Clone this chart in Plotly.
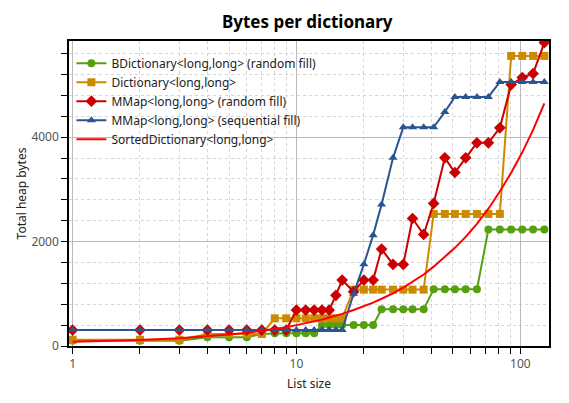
import plotly.graph_objects as go

list_size = [1, 2, 3, 4, 5, 6, 7, 8, 9, 10, 11, 12, 13, 14, 15, 16, 18, 20, 22, 24,
             27, 30, 33, 37, 41, 46, 51, 57, 64, 72, 81, 91, 102, 114, 128]

bdictionary_random = [100, 100, 100, 166, 166, 166, 230, 243, 243, 243, 243, 243,
                      402, 402, 402, 402, 402, 402, 402, 702, 702, 702, 702, 702,
                      1088, 1088, 1088, 1088, 1088, 2233, 2233, 2233, 2233, 2233, 2233]

dictionary = [120, 120, 120, 230, 230, 230, 230, 530, 530, 530, 530, 530, 530, 530,
              530, 530, 1080, 1080, 1080, 1080, 1080, 1080, 1080, 1080,
              2530, 2530, 2530, 2530, 2530, 2530, 2530, 5557, 5557, 5557, 5557]

mmap_random = [306, 306, 306, 306, 306, 306, 306, 306, 306, 689, 689, 689, 689, 689,
               970, 1263, 1040, 1263, 1263, 1857, 1563, 1563, 2443, 2137, 2731,
               3605, 3324, 3605, 3892, 3892, 4179, 5008, 5142, 5218, 5812]

mmap_sequential = [306, 306, 306, 306, 306, 306, 306, 306, 306, 306, 306, 306, 306,
                   306, 306, 306, 1000, 1564, 2124, 2712, 3604, 4190, 4190, 4190,
                   4190, 4485, 4772, 4772, 4772, 4772, 5059, 5059, 5059, 5059, 5059]

sorted_dictionary = [80, 115, 150, 185, 220, 255, 290, 325, 360, 400, 435, 470, 505,
                     545, 580, 615, 690, 760, 830, 905, 1010, 1120, 1230, 1370, 1520,
                     1700, 1880, 2090, 2340, 2630, 2960, 3320, 3710, 4140, 4650]

FONT = "Noto Sans"

fig = go.Figure()
fig.add_trace(go.Scatter(x=list_size, y=bdictionary_random, name="BDictionary<long,long> (random fill)",
                         mode="lines+markers", line=dict(color="#56a010", width=2),
                         marker=dict(symbol="circle", size=8, color="#56a010")))
fig.add_trace(go.Scatter(x=list_size, y=dictionary, name="Dictionary<long,long>",
                         mode="lines+markers", line=dict(color="#cc8a00", width=2),
                         marker=dict(symbol="square", size=8, color="#cc8a00")))
fig.add_trace(go.Scatter(x=list_size, y=mmap_random, name="MMap<long,long> (random fill)",
                         mode="lines+markers", line=dict(color="#cc0000", width=2),
                         marker=dict(symbol="diamond", size=9, color="#cc0000")))
fig.add_trace(go.Scatter(x=list_size, y=mmap_sequential, name="MMap<long,long> (sequential fill)",
                         mode="lines+markers", line=dict(color="#2b5592", width=2),
                         marker=dict(symbol="triangle-up", size=8, color="#2b5592")))
fig.add_trace(go.Scatter(x=list_size, y=sorted_dictionary, name="SortedDictionary<long,long>",
                         mode="lines", line=dict(color="#ff0000", width=2)))

fig.update_layout(
    width=569, height=403,
    margin=dict(l=69, r=20, t=41, b=57),
    paper_bgcolor="white", plot_bgcolor="white",
    font=dict(family=FONT, size=12, color="#222"),
    title=dict(text="<b>Bytes per dictionary</b>", x=0.54, xanchor="center", y=0.945, yanchor="middle",
               font=dict(family=FONT, size=17, color="black")),
    showlegend=True,
    legend=dict(x=0.005, y=0.975, xanchor="left", yanchor="top", bgcolor="rgba(0,0,0,0)",
                font=dict(family=FONT, size=12, color="#222"), tracegroupgap=0),
)

fig.update_xaxes(
    type="log", range=[-0.016, 2.128], dtick=1,
    showline=True, linecolor="black", linewidth=1.5, mirror=True,
    ticks="outside", ticklen=6, tickcolor="black",
    showgrid=True, gridcolor="#bbbbbb", gridwidth=1,
    zeroline=False,
    tickfont=dict(color="#555", size=12),
    title=dict(text="List size", standoff=8, font=dict(size=12, color="#222")),
    minor=dict(dtick="D1", ticks="outside", ticklen=6, tickcolor="black", showgrid=True,
               gridcolor="#d6d6d6", griddash="dot", gridwidth=1),
)
fig.update_yaxes(
    range=[0, 5843], dtick=2000,
    showline=True, linecolor="black", linewidth=1.5, mirror=True,
    ticks="outside", ticklen=6, tickcolor="black",
    showgrid=True, gridcolor="#bbbbbb", gridwidth=1,
    zeroline=False,
    tickfont=dict(color="#555", size=12),
    title=dict(text="Total heap bytes", standoff=2, font=dict(size=12, color="#222")),
    minor=dict(dtick=400, ticks="outside", ticklen=6, tickcolor="black", showgrid=True,
               gridcolor="#d6d6d6", griddash="dot", gridwidth=1),
)

fig.write_html("out.html")
